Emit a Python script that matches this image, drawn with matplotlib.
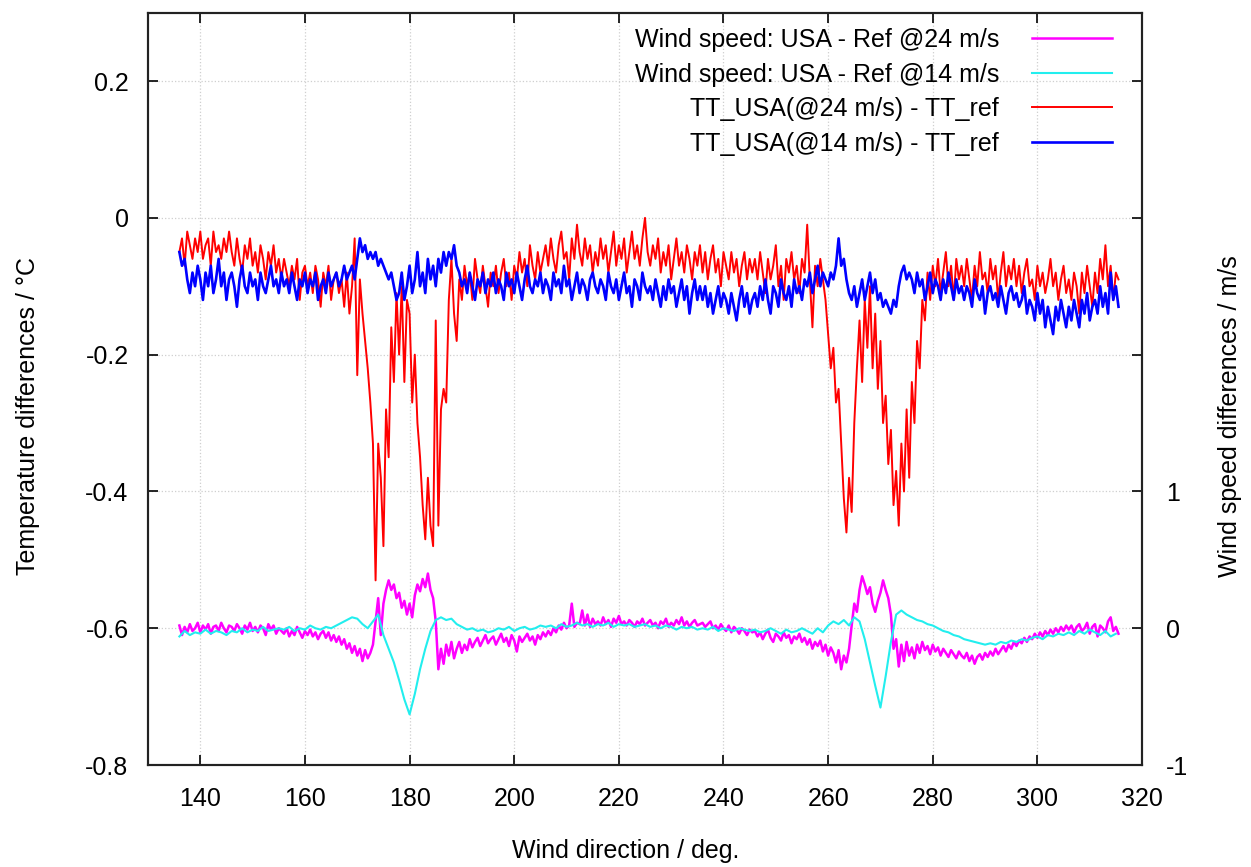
import numpy as np
import matplotlib
matplotlib.use("Agg")
import matplotlib.pyplot as plt

plt.rcParams['font.family'] = ['Liberation Sans', 'DejaVu Sans']
plt.rcParams['font.size'] = 18
plt.rcParams['axes.unicode_minus'] = False

# wind direction grid (deg) for the noisy series, 0.5 deg steps
direction = np.arange(136.0, 316.0, 0.5)
# coarser grid for the smooth 14 m/s wind speed difference
direction_coarse = np.arange(136, 316, 1)

# TT_USA(@24 m/s) - TT_ref  (deg C)
tt_diff_24 = [
    -0.05, -0.03, -0.07, -0.02, -0.04, -0.06, -0.03, -0.05, -0.02, -0.06, -0.04, -0.03, -0.07, -0.02, -0.05, -0.04, -0.06, -0.03, -0.05, -0.02,
    -0.05, -0.07, -0.03, -0.06, -0.08, -0.04, -0.06, -0.03, -0.07, -0.05, -0.08, -0.04, -0.06, -0.09, -0.05, -0.07, -0.04, -0.08, -0.06, -0.09,
    -0.06, -0.08, -0.10, -0.07, -0.09, -0.06, -0.12, -0.08, -0.07, -0.10, -0.08, -0.11, -0.07, -0.09, -0.13, -0.08, -0.10, -0.07, -0.12, -0.09,
    -0.08, -0.11, -0.09, -0.13, -0.08, -0.14, -0.10, -0.03, -0.23, -0.09, -0.14, -0.18, -0.22, -0.27, -0.33, -0.53, -0.33, -0.38, -0.48, -0.28,
    -0.35, -0.16, -0.24, -0.11, -0.20, -0.10, -0.24, -0.12, -0.14, -0.27, -0.20, -0.30, -0.35, -0.42, -0.47, -0.38, -0.45, -0.48, -0.15, -0.45,
    -0.28, -0.25, -0.27, -0.12, -0.06, -0.14, -0.18, -0.09, -0.12, -0.07, -0.10, -0.08, -0.12, -0.06, -0.09, -0.11, -0.07, -0.10, -0.13, -0.08,
    -0.10, -0.07, -0.11, -0.08, -0.06, -0.10, -0.08, -0.12, -0.07, -0.09, -0.05, -0.08, -0.06, -0.10, -0.04, -0.07, -0.09, -0.05, -0.08, -0.06,
    -0.04, -0.07, -0.03, -0.06, -0.08, -0.04, -0.02, -0.06, -0.05, -0.09, -0.03, -0.06, -0.01, -0.05, -0.07, -0.03, -0.06, -0.04, -0.08, -0.05,
    -0.07, -0.03, -0.06, -0.04, -0.08, -0.05, -0.02, -0.07, -0.04, -0.06, -0.03, -0.08, -0.05, -0.02, -0.06, -0.04, -0.07, -0.03, 0.00, -0.05,
    -0.07, -0.04, -0.06, -0.03, -0.08, -0.05, -0.07, -0.04, -0.09, -0.06, -0.03, -0.07, -0.05, -0.08, -0.04, -0.06, -0.09, -0.05, -0.07, -0.04,
    -0.08, -0.05, -0.09, -0.06, -0.04, -0.08, -0.06, -0.10, -0.05, -0.07, -0.09, -0.05, -0.08, -0.06, -0.10, -0.07, -0.05, -0.09, -0.06, -0.08,
    -0.06, -0.09, -0.05, -0.08, -0.11, -0.06, -0.09, -0.07, -0.04, -0.10, -0.07, -0.12, -0.06, -0.08, -0.05, -0.09, -0.07, -0.11, -0.06, -0.08,
    -0.01, -0.09, -0.16, -0.07, -0.10, -0.06, -0.09, -0.12, -0.17, -0.22, -0.19, -0.27, -0.25, -0.33, -0.41, -0.46, -0.38, -0.43, -0.30, -0.22,
    -0.15, -0.24, -0.12, -0.19, -0.10, -0.22, -0.14, -0.25, -0.18, -0.30, -0.26, -0.36, -0.31, -0.42, -0.37, -0.45, -0.33, -0.40, -0.28, -0.38,
    -0.24, -0.30, -0.18, -0.22, -0.12, -0.15, -0.08, -0.12, -0.07, -0.10, -0.06, -0.11, -0.08, -0.05, -0.10, -0.07, -0.12, -0.06, -0.09, -0.07,
    -0.10, -0.06, -0.09, -0.12, -0.07, -0.10, -0.05, -0.09, -0.08, -0.11, -0.06, -0.09, -0.07, -0.12, -0.08, -0.05, -0.10, -0.07, -0.09, -0.06,
    -0.10, -0.07, -0.11, -0.08, -0.06, -0.10, -0.09, -0.12, -0.07, -0.10, -0.08, -0.11, -0.09, -0.06, -0.10, -0.08, -0.12, -0.09, -0.07, -0.11,
    -0.09, -0.12, -0.08, -0.10, -0.14, -0.08, -0.11, -0.07, -0.10, -0.13, -0.08, -0.11, -0.06, -0.09, -0.04, -0.10, -0.07, -0.12, -0.08, -0.09,
]

# TT_USA(@14 m/s) - TT_ref  (deg C)
tt_diff_14 = [
    -0.05, -0.07, -0.06, -0.09, -0.11, -0.08, -0.10, -0.07, -0.09, -0.12, -0.08, -0.10, -0.07, -0.11, -0.09, -0.06, -0.10, -0.08, -0.12, -0.09,
    -0.08, -0.10, -0.13, -0.09, -0.07, -0.10, -0.11, -0.08, -0.10, -0.09, -0.12, -0.08, -0.10, -0.11, -0.09, -0.07, -0.10, -0.09, -0.11, -0.08,
    -0.10, -0.09, -0.11, -0.08, -0.10, -0.12, -0.09, -0.10, -0.08, -0.11, -0.09, -0.10, -0.08, -0.12, -0.10, -0.09, -0.11, -0.08, -0.10, -0.09,
    -0.08, -0.10, -0.09, -0.07, -0.09, -0.08, -0.07, -0.09, -0.06, -0.03, -0.05, -0.04, -0.06, -0.05, -0.06, -0.05, -0.07, -0.06, -0.07, -0.08,
    -0.09, -0.08, -0.10, -0.12, -0.11, -0.08, -0.12, -0.10, -0.07, -0.11, -0.09, -0.05, -0.10, -0.08, -0.11, -0.06, -0.09, -0.07, -0.10, -0.06,
    -0.08, -0.05, -0.07, -0.05, -0.06, -0.04, -0.07, -0.08, -0.10, -0.09, -0.11, -0.08, -0.10, -0.12, -0.09, -0.10, -0.08, -0.11, -0.09, -0.10,
    -0.08, -0.11, -0.09, -0.10, -0.12, -0.08, -0.10, -0.09, -0.11, -0.08, -0.10, -0.12, -0.09, -0.07, -0.10, -0.11, -0.09, -0.10, -0.08, -0.11,
    -0.09, -0.10, -0.12, -0.08, -0.10, -0.09, -0.11, -0.07, -0.10, -0.09, -0.12, -0.10, -0.08, -0.11, -0.09, -0.10, -0.12, -0.09, -0.08, -0.10,
    -0.11, -0.09, -0.10, -0.12, -0.08, -0.10, -0.11, -0.09, -0.12, -0.10, -0.08, -0.11, -0.10, -0.13, -0.09, -0.10, -0.12, -0.08, -0.10, -0.11,
    -0.10, -0.12, -0.09, -0.11, -0.13, -0.10, -0.12, -0.09, -0.11, -0.10, -0.13, -0.11, -0.09, -0.12, -0.10, -0.14, -0.11, -0.09, -0.12, -0.10,
    -0.12, -0.10, -0.13, -0.11, -0.14, -0.12, -0.10, -0.13, -0.11, -0.12, -0.14, -0.11, -0.13, -0.15, -0.12, -0.10, -0.13, -0.11, -0.14, -0.12,
    -0.11, -0.13, -0.10, -0.12, -0.09, -0.12, -0.14, -0.10, -0.11, -0.13, -0.09, -0.11, -0.12, -0.10, -0.13, -0.09, -0.11, -0.10, -0.12, -0.09,
    -0.10, -0.08, -0.11, -0.09, -0.07, -0.10, -0.08, -0.09, -0.10, -0.08, -0.09, -0.07, -0.03, -0.07, -0.06, -0.09, -0.11, -0.12, -0.10, -0.13,
    -0.11, -0.09, -0.12, -0.10, -0.08, -0.11, -0.09, -0.12, -0.11, -0.13, -0.12, -0.13, -0.14, -0.12, -0.13, -0.10, -0.08, -0.07, -0.09, -0.08,
    -0.09, -0.11, -0.08, -0.10, -0.09, -0.12, -0.10, -0.08, -0.11, -0.09, -0.10, -0.12, -0.09, -0.11, -0.08, -0.10, -0.12, -0.09, -0.11, -0.10,
    -0.12, -0.10, -0.11, -0.13, -0.09, -0.11, -0.12, -0.10, -0.14, -0.11, -0.10, -0.12, -0.11, -0.13, -0.10, -0.12, -0.14, -0.11, -0.10, -0.12,
    -0.11, -0.13, -0.12, -0.10, -0.14, -0.12, -0.13, -0.15, -0.11, -0.14, -0.12, -0.16, -0.13, -0.15, -0.17, -0.13, -0.15, -0.12, -0.14, -0.16,
    -0.13, -0.15, -0.12, -0.14, -0.16, -0.12, -0.14, -0.11, -0.15, -0.13, -0.12, -0.14, -0.10, -0.13, -0.11, -0.14, -0.08, -0.12, -0.10, -0.13,
]

# Wind speed: USA - Ref @24 m/s  (m/s)
ws_diff_24 = [
    0.02, -0.05, 0.01, -0.03, 0.03, -0.02, 0.00, 0.04, -0.03, 0.02, -0.01, 0.03, -0.04, 0.01, 0.02, -0.02, 0.04, 0.00, -0.03, 0.02,
    0.01, -0.02, 0.03, 0.00, -0.04, 0.02, -0.01, 0.04, -0.02, 0.01, -0.03, 0.02, 0.00, -0.05, 0.03, -0.01, 0.02, -0.04, 0.00, -0.02,
    -0.04, 0.00, -0.06, -0.02, -0.05, 0.01, -0.03, -0.07, -0.02, -0.05, -0.01, -0.06, -0.03, -0.08, -0.04, -0.02, -0.07, -0.03, -0.09, -0.05,
    -0.10, -0.06, -0.12, -0.08, -0.15, -0.11, -0.18, -0.13, -0.20, -0.15, -0.24, -0.16, -0.22, -0.18, -0.12, 0.05, 0.22, -0.05, 0.18, 0.28,
    0.35, 0.28, 0.32, 0.22, 0.26, 0.15, 0.20, 0.10, 0.18, 0.08, 0.24, 0.32, 0.27, 0.36, 0.30, 0.40, 0.28, 0.22, 0.05, -0.30,
    -0.15, -0.26, -0.12, -0.20, -0.10, -0.22, -0.15, -0.10, -0.18, -0.12, -0.16, -0.08, -0.14, -0.10, -0.07, -0.13, -0.09, -0.05, -0.11, -0.08,
    -0.06, -0.12, -0.08, -0.04, -0.10, -0.07, -0.13, -0.05, -0.09, -0.17, -0.06, -0.10, -0.07, -0.04, -0.09, -0.06, -0.12, -0.05, -0.08, -0.03,
    -0.06, -0.02, -0.05, 0.00, -0.03, 0.02, -0.01, 0.04, 0.00, 0.02, 0.18, 0.01, 0.04, 0.03, 0.13, 0.02, 0.10, 0.01, 0.07, 0.03,
    0.05, 0.02, 0.08, 0.03, 0.06, 0.01, 0.07, 0.04, 0.09, 0.03, 0.05, 0.02, 0.06, 0.04, 0.01, 0.05, 0.03, 0.07, 0.02, 0.04,
    0.06, 0.02, 0.04, 0.00, 0.05, 0.03, 0.07, 0.01, 0.04, 0.02, 0.06, 0.03, 0.08, 0.02, 0.05, 0.01, 0.04, 0.06, 0.02, 0.03,
    0.04, 0.01, 0.03, 0.05, 0.00, 0.02, -0.01, 0.03, 0.00, -0.02, 0.02, -0.03, 0.01, -0.01, -0.04, 0.00, -0.02, -0.05, -0.01, -0.03,
    -0.02, -0.06, -0.03, -0.08, -0.04, -0.01, -0.07, -0.10, -0.04, -0.06, -0.09, -0.03, -0.07, -0.05, -0.11, -0.06, -0.08, -0.04, -0.10, -0.07,
    -0.12, -0.08, -0.15, -0.10, -0.13, -0.09, -0.17, -0.12, -0.20, -0.14, -0.18, -0.25, -0.16, -0.30, -0.20, -0.25, -0.15, 0.02, 0.18, 0.12,
    0.28, 0.38, 0.32, 0.25, 0.30, 0.18, 0.12, 0.20, 0.26, 0.35, 0.28, 0.22, 0.10, -0.15, -0.08, -0.28, -0.12, -0.24, -0.10, -0.20,
    -0.14, -0.22, -0.12, -0.18, -0.10, -0.16, -0.13, -0.19, -0.12, -0.17, -0.14, -0.20, -0.15, -0.18, -0.21, -0.16, -0.19, -0.22, -0.17, -0.20,
    -0.22, -0.18, -0.24, -0.20, -0.26, -0.21, -0.19, -0.23, -0.18, -0.21, -0.17, -0.20, -0.15, -0.19, -0.16, -0.13, -0.17, -0.12, -0.15, -0.10,
    -0.13, -0.09, -0.11, -0.07, -0.10, -0.06, -0.08, -0.04, -0.07, -0.03, -0.06, -0.02, -0.05, -0.01, -0.04, 0.00, -0.03, 0.01, -0.02, 0.02,
    -0.01, 0.02, -0.03, 0.01, 0.03, -0.02, 0.00, 0.04, -0.04, 0.01, 0.03, -0.06, 0.02, 0.00, -0.03, 0.05, 0.08, -0.02, 0.01, -0.04,
]

# Wind speed: USA - Ref @14 m/s  (m/s), 1 deg steps
ws_diff_14 = [
    -0.06, -0.02, -0.05, -0.03, -0.04, -0.01, -0.04, -0.02, -0.03, -0.05,
    -0.02, -0.03, 0.00, -0.03, -0.01, -0.02, 0.01, -0.02, -0.01, 0.00,
    -0.01, 0.01, -0.02, 0.00, -0.01, 0.02, 0.00, -0.01, 0.01, 0.00,
    0.02, 0.04, 0.06, 0.08, 0.07, 0.03, 0.00, 0.05, 0.10, -0.05,
    -0.15, -0.25, -0.38, -0.52, -0.63, -0.48, -0.30, -0.15, -0.02, 0.06,
    0.08, 0.06, 0.07, 0.03, 0.01, -0.01, 0.00, -0.02, -0.01, -0.03,
    -0.02, 0.00, -0.01, 0.01, -0.02, 0.00, 0.01, -0.01, 0.00, 0.02,
    0.01, 0.02, 0.00, 0.03, 0.01, 0.02, 0.04, 0.02, 0.03, 0.01,
    0.03, 0.02, 0.04, 0.01, 0.03, 0.02, 0.03, 0.01, 0.02, 0.03,
    0.01, 0.02, 0.00, 0.02, 0.01, -0.01, 0.01, 0.00, 0.01, -0.01,
    0.00, -0.01, 0.01, -0.02, 0.00, -0.01, -0.02, 0.00, -0.01, -0.02,
    -0.01, -0.03, -0.02, 0.00, -0.02, -0.04, -0.01, -0.03, -0.02, 0.00,
    -0.02, -0.04, 0.00, -0.03, 0.02, 0.05, 0.03, 0.06, 0.02, 0.08,
    0.05, -0.08, -0.25, -0.42, -0.58, -0.35, -0.10, 0.10, 0.13, 0.10,
    0.08, 0.06, 0.05, 0.03, 0.02, 0.00, -0.02, -0.03, -0.05, -0.06,
    -0.08, -0.09, -0.10, -0.11, -0.12, -0.11, -0.12, -0.10, -0.11, -0.09,
    -0.10, -0.08, -0.09, -0.07, -0.06, -0.08, -0.05, -0.06, -0.04, -0.05,
    -0.03, -0.05, -0.02, -0.04, -0.01, -0.03, -0.05, -0.02, -0.06, -0.04,
]

labels = [
    "Wind speed: USA - Ref @24 m/s",
    "Wind speed: USA - Ref @14 m/s",
    "TT_USA(@24 m/s) - TT_ref",
    "TT_USA(@14 m/s) - TT_ref",
]

fig = plt.figure(figsize=(12.51, 8.67), dpi=100)
ax = fig.add_axes([0.1183, 0.1176, 0.7946, 0.8678])
ax2 = ax.twinx()

l3, = ax.plot(direction, tt_diff_24, color="#ff0000", lw=1.4)
l4, = ax.plot(direction, tt_diff_14, color="#0000ff", lw=1.9)
l1, = ax2.plot(direction, ws_diff_24, color="#ff00ff", lw=1.8)
l2, = ax2.plot(direction_coarse, ws_diff_14, color="#22eeee", lw=1.5)

ax.set_xlim(130, 320)
ax.set_ylim(-0.8, 0.3)
ax2.set_ylim(-1, 4.5)
ax.set_xticks(np.arange(140, 321, 20))
ax.set_yticks([-0.8, -0.6, -0.4, -0.2, 0, 0.2], ["-0.8", "-0.6", "-0.4", "-0.2", "0", "0.2"])
ax2.set_yticks([-1, 0, 1, 2, 3, 4], ["-1", "0", "1", "", "", ""])

ax.grid(True, color="#cfcfcf", linestyle=":", linewidth=0.9)
ax.tick_params(axis="x", direction="in", top=True, length=7, width=1.2, pad=16)
ax.tick_params(axis="y", direction="in", length=7, width=1.2, pad=14)
ax2.tick_params(axis="y", direction="in", length=7, width=1.2, pad=17)
for a in (ax, ax2):
    for s in a.spines.values():
        s.set_linewidth(1.5)
        s.set_color("#222222")

fig.text(0.5, 0.018, "Wind direction / deg.", ha="center", va="center")
fig.text(0.022, 0.52, "Temperature differences / °C", ha="center", va="center", rotation=90)
fig.text(0.983, 0.52, "Wind speed differences / m/s", ha="center", va="center", rotation=90)

ax2.legend([l1, l2, l3, l4], labels, loc="upper right", bbox_to_anchor=(0.982, 0.996),
           frameon=False, markerfirst=False, handlelength=3.2, handletextpad=1.3,
           labelspacing=0.42, borderpad=0.0)

fig.savefig("out.png", dpi=100)
